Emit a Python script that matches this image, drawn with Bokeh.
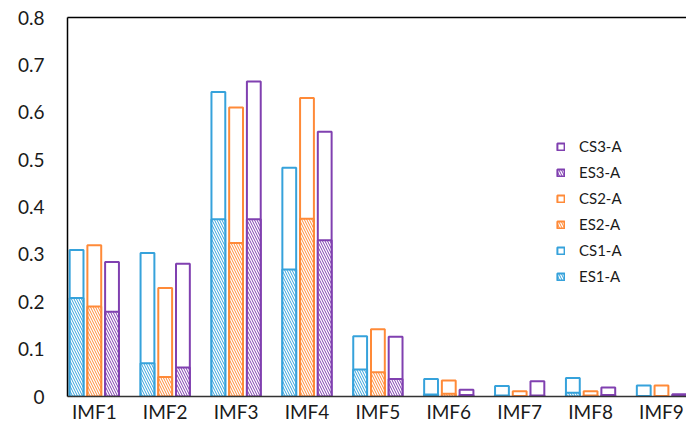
from bokeh.plotting import figure
from bokeh.models import ColumnDataSource, FixedTicker, LinearAxis, Legend, LegendItem, Range1d
from bokeh.transform import dodge
from bokeh.embed import file_html
from bokeh.resources import INLINE

categories = ["IMF1", "IMF2", "IMF3", "IMF4", "IMF5", "IMF6", "IMF7", "IMF8", "IMF9"]
c_s1 = [0.309, 0.303, 0.643, 0.483, 0.127, 0.037, 0.022, 0.039, 0.023]
e_s1 = [0.208, 0.070, 0.374, 0.268, 0.057, 0.004, 0.002, 0.008, 0.001]
c_s2 = [0.319, 0.229, 0.610, 0.630, 0.142, 0.034, 0.011, 0.011, 0.023]
e_s2 = [0.190, 0.041, 0.324, 0.375, 0.051, 0.006, 0.001, 0.002, 0.001]
c_s3 = [0.284, 0.280, 0.665, 0.559, 0.126, 0.014, 0.032, 0.019, 0.005]
e_s3 = [0.179, 0.061, 0.374, 0.330, 0.037, 0.003, 0.002, 0.003, 0.001]
y_ticks = [0, 0.1, 0.2, 0.3, 0.4, 0.5, 0.6, 0.7, 0.8]
y_tick_labels = ["0", "0.1", "0.2", "0.3", "0.4", "0.5", "0.6", "0.7", "0.8"]

idx = list(range(1, len(categories) + 1))
src = ColumnDataSource(dict(idx=idx, c_s1=c_s1, e_s1=e_s1, c_s2=c_s2, e_s2=e_s2,
                            c_s3=c_s3, e_s3=e_s3))

FONT = "Lato"
TXT = "#1a1a1a"
BLUE, ORANGE, PURPLE = "#36A2DB", "#FF8A38", "#8040B0"

p = figure(width=686, height=425, x_range=Range1d(0.622, 9.353), y_range=Range1d(0, 0.8),
           output_backend="svg", toolbar_location=None,
           min_border_left=67, min_border_top=17, min_border_right=0, min_border_bottom=0)
p.outline_line_color = None
p.grid.visible = False

W = 0.195
renderers = {}
for key, off, col in [("s1", -0.25, BLUE), ("s2", 0.0, ORANGE), ("s3", 0.25, PURPLE)]:
    xx = dodge("idx", off, range=p.x_range)
    rc = p.vbar(x=xx, top="c_" + key, bottom=0, width=W, source=src,
                fill_color="white", line_color=col, line_width=2)
    re = p.vbar(x=xx, top="e_" + key, bottom=0, width=W, source=src,
                fill_color="white", hatch_pattern="\\", hatch_color=col,
                hatch_scale=5, hatch_weight=1, line_color=col, line_width=2)
    renderers[key] = (rc, re)

xa = p.xaxis[0]
xa.ticker = FixedTicker(ticks=idx)
xa.major_label_overrides = {i: c for i, c in zip(idx, categories)}
xa.major_tick_line_color = None
xa.minor_tick_line_color = None
xa.major_tick_out = 0
xa.minor_tick_out = 0
xa.axis_line_color = "#333333"
xa.axis_line_width = 1.5
xa.major_label_text_font = FONT
xa.major_label_text_font_size = "19px"
xa.major_label_text_color = TXT
xa.major_label_standoff = 3

ya = p.yaxis[0]
ya.ticker = FixedTicker(ticks=y_ticks)
ya.major_label_overrides = {t: l for t, l in zip(y_ticks, y_tick_labels)}
ya.major_tick_line_color = None
ya.minor_tick_line_color = None
ya.major_tick_out = 0
ya.minor_tick_out = 0
ya.axis_line_color = "black"
ya.axis_line_width = 1.5
ya.major_label_text_font = FONT
ya.major_label_text_font_size = "19px"
ya.major_label_text_color = TXT
ya.major_label_standoff = 23

top = LinearAxis(ticker=FixedTicker(ticks=[]), axis_line_color="black", axis_line_width=1.5,
                 major_tick_line_color=None, minor_tick_line_color=None,
                 major_label_text_font_size="0px", major_tick_out=0, minor_tick_out=0)
p.add_layout(top, "above")

items = [
    LegendItem(label="CS3-A", renderers=[renderers["s3"][0]]),
    LegendItem(label="ES3-A", renderers=[renderers["s3"][1]]),
    LegendItem(label="CS2-A", renderers=[renderers["s2"][0]]),
    LegendItem(label="ES2-A", renderers=[renderers["s2"][1]]),
    LegendItem(label="CS1-A", renderers=[renderers["s1"][0]]),
    LegendItem(label="ES1-A", renderers=[renderers["s1"][1]]),
]
legend = Legend(items=items, location=(489, 110), glyph_width=9, glyph_height=9,
                label_height=20, spacing=6, padding=0, margin=0,
                border_line_color=None, background_fill_alpha=0, label_standoff=14,
                label_text_font=FONT, label_text_font_size="15px", label_text_color=TXT)
p.add_layout(legend)

open("out.html", "w").write(file_html(p, INLINE))
